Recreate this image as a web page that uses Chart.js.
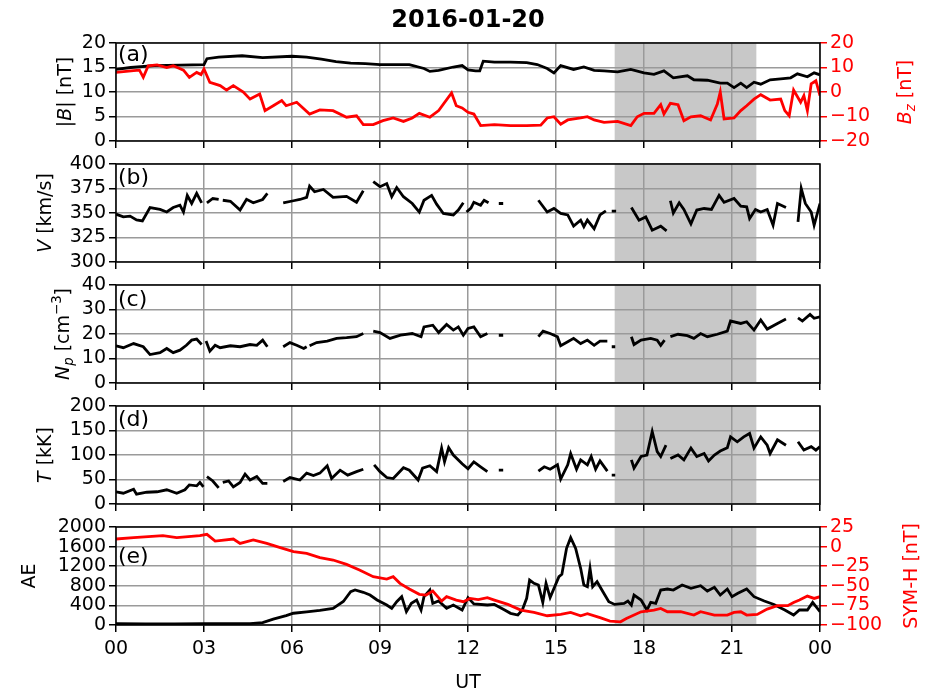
<!DOCTYPE html>
<html>
<head>
<meta charset="utf-8">
<script src="https://cdn.jsdelivr.net/npm/chart.js@4.4.0/dist/chart.umd.min.js"></script>
<style>
  html, body { margin: 0; padding: 0; background: #fff; }
  #wrap { position: relative; width: 930px; height: 691px; }
  #wrap canvas { position: absolute; left: 0; top: 0; }
</style>
</head>
<body>
<div id="wrap">
  <canvas id="panelA" width="930" height="691"></canvas>
  <canvas id="panelB" width="930" height="691"></canvas>
  <canvas id="panelC" width="930" height="691"></canvas>
  <canvas id="panelD" width="930" height="691"></canvas>
  <canvas id="panelE" width="930" height="691"></canvas>
</div>
<script>
// ---- data (UT hours / values), null = data gap ----
const hourLabels = ["00", "03", "06", "09", "12", "15", "18", "21", "00"];
const shadeStart = 17.0;
const shadeEnd = 21.83;

const bTime = [0, 0.5, 1.3, 2.2, 3.0, 3.1, 3.5, 4.3, 5.0, 6.0, 6.5, 7.0, 7.5, 8.0, 8.5, 9.0, 10.0, 10.5, 10.7, 11.0, 11.5, 11.8, 12.0, 12.26, 12.4, 12.52, 12.9, 13.45, 14.0, 14.36, 14.7, 14.93, 15.16, 15.6, 15.95, 16.3, 16.64, 17.1, 17.55, 18.0, 18.34, 18.68, 19.0, 19.48, 19.7, 20.16, 20.6, 20.84, 21.07, 21.3, 21.5, 21.75, 21.98, 22.3, 22.66, 23.0, 23.23, 23.57, 23.8, 24];
const bValues = [14.6, 15.0, 15.4, 15.5, 15.6, 16.8, 17.1, 17.4, 17.0, 17.3, 17.1, 16.7, 16.2, 15.9, 15.8, 15.6, 15.6, 14.8, 14.2, 14.4, 15.1, 15.4, 14.5, 14.3, 14.3, 16.3, 16.1, 16.1, 16.0, 15.6, 14.8, 13.9, 15.4, 14.6, 15.1, 14.4, 14.3, 14.1, 14.6, 13.9, 13.6, 14.3, 12.9, 13.3, 12.5, 12.4, 11.8, 11.8, 10.9, 11.8, 10.9, 12.0, 11.6, 12.5, 12.7, 12.9, 13.7, 13.1, 13.9, 13.5];

const bzTime = [0, 0.6, 0.8, 0.93, 1.1, 1.4, 1.73, 1.95, 2.3, 2.5, 2.75, 2.9, 3.0, 3.2, 3.55, 3.77, 4.0, 4.34, 4.57, 4.9, 5.08, 5.36, 5.65, 5.8, 6.16, 6.6, 6.95, 7.4, 7.86, 8.2, 8.43, 8.77, 9.1, 9.45, 9.8, 10.1, 10.34, 10.7, 11.0, 11.44, 11.6, 11.8, 12.0, 12.2, 12.43, 12.9, 13.45, 14.0, 14.48, 14.7, 14.93, 15.16, 15.4, 15.84, 16.07, 16.3, 16.64, 17.1, 17.55, 17.77, 18.0, 18.34, 18.57, 18.68, 18.9, 19.16, 19.36, 19.6, 19.93, 20.27, 20.5, 20.6, 20.73, 21.07, 21.3, 21.5, 21.75, 21.98, 22.3, 22.66, 22.8, 22.95, 23.1, 23.34, 23.45, 23.57, 23.7, 23.86, 24];
const bzValues = [8.0, 8.7, 8.9, 6.0, 10.7, 11.1, 10.0, 10.7, 8.9, 6.0, 8.0, 7.1, 9.4, 3.9, 2.6, 0.8, 2.6, 0, -2.9, -0.8, -7.6, -5.6, -3.5, -5.6, -4.2, -9.0, -7.3, -7.6, -10.3, -9.7, -13.3, -13.3, -11.7, -10.6, -12.0, -10.6, -8.7, -10.3, -7.6, -0.4, -5.6, -6.5, -8.3, -9.0, -13.7, -13.3, -13.7, -13.7, -13.5, -10.6, -10.1, -13.1, -11.4, -10.6, -10.1, -11.4, -12.4, -12.0, -13.7, -10.1, -8.7, -8.7, -5.2, -9.0, -4.6, -5.2, -11.7, -10.1, -9.7, -11.4, -4.9, 0, -11.0, -10.6, -7.6, -5.6, -2.9, -1.1, -3.3, -2.9, -7.6, -9.7, 0.8, -4.2, -1.5, -7.6, 3.3, 4.6, -1.5];

const vTime = [0, 0.25, 0.48, 0.7, 0.9, 1.16, 1.5, 1.73, 1.95, 2.18, 2.3, 2.43, 2.58, 2.75, 2.92, 3.0, 3.1, 3.3, 3.5, 3.57, 3.64, 3.9, 4.23, 4.45, 4.68, 5.0, 5.16, 5.4, 5.7, 6.05, 6.27, 6.5, 6.6, 6.77, 7.07, 7.4, 7.86, 8.2, 8.43, 8.6, 8.77, 9.0, 9.23, 9.4, 9.57, 9.8, 10.1, 10.34, 10.5, 10.76, 10.93, 11.16, 11.5, 11.67, 11.84, 11.9, 11.95, 12.1, 12.2, 12.43, 12.55, 12.7, 12.9, 13.05, 13.2, 13.5, 14.4, 14.7, 14.93, 15.16, 15.4, 15.6, 15.84, 15.95, 16.07, 16.3, 16.5, 16.7, 16.8, 16.9, 17.05, 17.3, 17.57, 17.83, 18.06, 18.28, 18.57, 18.77, 18.83, 18.9, 19.0, 19.2, 19.36, 19.6, 19.8, 20.05, 20.3, 20.56, 20.73, 21.07, 21.3, 21.5, 21.6, 21.8, 21.98, 22.2, 22.4, 22.55, 22.84, 23.0, 23.25, 23.36, 23.5, 23.7, 23.8, 24];
const vValues = [348.8, 346, 346.8, 343, 342, 355.6, 353.6, 351, 355.6, 358, 351, 368, 359.7, 370, 360.4, null, 360.4, 364.8, 363.8, null, 363, 362, 353, 364, 360.4, 363.8, 370, null, 360.4, 362.5, 363.8, 366, 377.5, 371.7, 374, 366, 367, 361, 372.7, null, 382, 376.8, 380, 366.6, 376, 366.6, 359.7, 351, 363, 368, 359, 349.5, 348, 353, 360.4, null, 351, 355, 361, 358, 363, 360.4, null, 359.7, 359.7, null, 363, 351, 354.6, 349.5, 348, 336.7, 342.7, 336, 342.7, 334, 348, 352.2, null, 352, 352, null, 355.6, 342.7, 346, 332.5, 336.5, 331.8, null, 362.5, 350, 360.4, 353.6, 339, 353, 354.6, 353.6, 368, 361, 364.8, 357, 356.3, 344.4, 353.6, 351, 353.6, 337.5, 359.7, 355.6, null, 341, 375, 359.7, 351, 337.5, 359.7];

const npTime = [0, 0.25, 0.6, 0.93, 1.16, 1.5, 1.73, 1.95, 2.18, 2.4, 2.58, 2.75, 2.92, 3.0, 3.07, 3.2, 3.38, 3.55, 3.9, 4.23, 4.57, 4.8, 5.0, 5.16, 5.4, 5.7, 5.93, 6.16, 6.4, 6.5, 6.55, 6.6, 6.84, 7.2, 7.52, 7.86, 8.2, 8.43, 8.6, 8.77, 9.0, 9.34, 9.7, 10.1, 10.4, 10.5, 10.8, 11.0, 11.27, 11.5, 11.67, 11.84, 12.0, 12.2, 12.43, 12.66, 12.9, 13.05, 13.2, 13.5, 14.4, 14.56, 14.8, 15.05, 15.16, 15.4, 15.6, 15.84, 16.07, 16.3, 16.5, 16.75, 16.82, 16.9, 17.02, 17.3, 17.57, 17.66, 17.9, 18.23, 18.45, 18.57, 18.7, 18.8, 18.9, 19.16, 19.48, 19.7, 19.93, 20.16, 20.5, 20.84, 20.95, 21.3, 21.5, 21.75, 21.98, 22.2, 22.55, 22.84, 23.0, 23.25, 23.4, 23.66, 23.8, 24];
const npValues = [15.2, 14.4, 16.1, 14.8, 11.6, 12.4, 14.1, 12.4, 13.4, 15.4, 17.5, 17.9, 15.7, null, 17.1, 13.0, 15.4, 14.4, 15.2, 14.8, 15.7, 15.4, 17.5, 14.8, null, 14.8, 16.5, 15.4, 14.1, 14.8, null, 15.2, 16.5, 17.1, 18.2, 18.5, 18.9, 20.2, null, 21.2, 20.6, 18.2, 19.5, 20.2, 18.9, 22.9, 23.6, 20.6, 23.9, 21.6, 22.9, 19.5, 22.3, 22.9, 18.9, 20.2, null, 19.5, 19.5, null, 18.9, 21.2, 20.2, 18.9, 15.2, 16.8, 18.2, 16.1, 17.5, 15.4, 17.1, 17.1, null, 14.8, 14.8, null, 18.9, 15.7, 17.5, 18.2, 17.5, 15.4, 17.5, null, 18.9, 19.9, 19.3, 18.2, 20.2, 18.9, 19.9, 21.2, 25.3, 24.3, 25.0, 21.6, 25.7, 22.0, 24.3, 26.1, null, 26.6, 25.3, 28.0, 26.4, 27.0];

const tTime = [0, 0.25, 0.6, 0.7, 1.05, 1.4, 1.73, 2.07, 2.35, 2.5, 2.75, 2.86, 2.98, 3.04, 3.1, 3.3, 3.5, 3.57, 3.64, 3.84, 4.0, 4.23, 4.4, 4.57, 4.8, 5.0, 5.16, 5.4, 5.7, 5.93, 6.27, 6.5, 6.73, 6.95, 7.2, 7.35, 7.64, 7.9, 8.2, 8.43, 8.6, 8.8, 9.0, 9.23, 9.45, 9.8, 10.0, 10.3, 10.45, 10.7, 10.93, 11.1, 11.2, 11.34, 11.5, 11.8, 12.0, 12.2, 12.43, 12.66, 12.9, 13.05, 13.2, 13.5, 14.4, 14.6, 14.8, 15.05, 15.16, 15.4, 15.5, 15.7, 15.84, 16.07, 16.2, 16.35, 16.5, 16.75, 16.82, 16.9, 17.02, 17.3, 17.57, 17.66, 17.9, 18.1, 18.28, 18.45, 18.57, 18.75, 18.82, 18.9, 19.16, 19.36, 19.6, 19.8, 20.05, 20.2, 20.4, 20.6, 20.84, 20.95, 21.18, 21.4, 21.6, 21.75, 21.98, 22.2, 22.3, 22.55, 22.84, 23.0, 23.25, 23.45, 23.7, 23.86, 24];
const tValues = [25, 22, 30, 20, 24, 25, 29, 22, 29, 39, 37, 44, 35, null, 56, 47, 33, null, 44, 47, 35, 44, 61, 49, 56, 42, 42, null, 46, 54, 49, 63, 58, 63, 78, 52, 69, 59, 66, 71, null, 80, 66, 54, 52, 74, 69, 49, 73, 78, 66, 114, 86, 115, 100, 82, 72, 86, 76, 66, null, 69, 69, null, 67, 76, 71, 80, 51, 80, 103, 71, 90, 80, 97, 71, 88, 67, null, 59, 59, null, 90, 73, 97, 100, 148, 107, 97, 120, null, 93, 100, 90, 114, 97, 103, 88, 100, 108, 115, 137, 127, 137, 144, 114, 137, 120, 103, 131, 120, null, 127, 110, 117, 110, 117];

const aeTime = [0, 1, 2, 3, 4, 4.57, 5.0, 5.36, 5.8, 6.05, 6.5, 6.95, 7.4, 7.75, 8.0, 8.15, 8.43, 8.66, 8.9, 9.23, 9.4, 9.57, 9.74, 9.9, 10.07, 10.25, 10.4, 10.5, 10.7, 10.8, 11.0, 11.27, 11.5, 11.8, 12.0, 12.2, 12.66, 12.9, 13.25, 13.45, 13.7, 13.85, 14.0, 14.1, 14.25, 14.4, 14.55, 14.66, 14.8, 15.1, 15.2, 15.36, 15.5, 15.67, 15.84, 15.95, 16.07, 16.16, 16.25, 16.4, 16.6, 16.8, 17.0, 17.32, 17.45, 17.57, 17.66, 17.9, 18.1, 18.23, 18.4, 18.57, 18.8, 19.0, 19.3, 19.6, 19.93, 20.16, 20.4, 20.6, 20.84, 21.0, 21.2, 21.5, 21.75, 22.1, 22.43, 22.8, 23.1, 23.3, 23.57, 23.75, 24];
const aeValues = [30, 25, 25, 28, 30, 30, 50, 120, 190, 240, 270, 300, 340, 480, 680, 714, 667, 612, 510, 408, 340, 476, 578, 272, 442, 510, 306, 578, 714, 442, 490, 340, 408, 306, 558, 430, 408, 420, 306, 238, 204, 306, 544, 918, 850, 816, 462, 850, 558, 986, 1034, 1564, 1782, 1564, 1156, 816, 782, 1156, 782, 884, 680, 476, 420, 442, 490, 408, 612, 510, 306, 462, 442, 714, 734, 714, 816, 748, 802, 694, 768, 612, 734, 578, 646, 734, 578, 490, 420, 306, 204, 306, 306, 462, 272];

const symTime = [0, 0.6, 1.6, 2.07, 2.86, 3.1, 3.38, 4.0, 4.23, 4.68, 5.14, 5.6, 6.05, 6.5, 6.95, 7.4, 7.86, 8.3, 8.77, 9.23, 9.45, 9.68, 10.0, 10.34, 10.57, 10.8, 11.1, 11.27, 11.6, 11.84, 12.07, 12.35, 12.66, 12.9, 13.36, 13.8, 14.25, 14.7, 15.16, 15.5, 15.84, 16.07, 16.5, 16.84, 17.2, 17.4, 17.9, 18.34, 18.57, 18.8, 19.25, 19.7, 19.93, 20.4, 20.84, 21.07, 21.3, 21.5, 21.86, 22.2, 22.55, 22.9, 23.1, 23.3, 23.57, 23.8, 24];
const symValues = [9.7, 11.4, 13.9, 11.4, 13.9, 15.6, 7.1, 9.7, 4.1, 8.4, 4.1, -1.4, -6.5, -8.6, -14.1, -17.1, -22.7, -29.9, -38.4, -41.4, -38.4, -46.9, -54.1, -60.9, -61.8, -56.7, -69.5, -63.9, -68.2, -70.3, -66.1, -67.5, -65.2, -68.2, -73.7, -81, -84, -88.2, -86.5, -84, -88.2, -85.6, -90.7, -95, -95.9, -91.6, -83.1, -81, -78.8, -83.1, -83.1, -87.3, -83.1, -87.3, -87.3, -84, -83.1, -87.3, -86.5, -79.7, -75.4, -75.4, -71.2, -68.2, -63.1, -66.1, -63.9];

// ---- style ----
const FONT = "DejaVu Sans";
const RED = "#ff0000";
const GRID = "#9a9a9a";
const SHADE = "#c8c8c8";
Chart.defaults.font.family = FONT;

function pairs(times, values) {
  const n = Math.min(times.length, values.length);
  const out = [];
  for (let i = 0; i < n; i++) out.push({ x: times[i], y: values[i] });
  return out;
}

function minusFmt(v) {
  return v < 0 ? "\u2212" + Math.abs(v) : String(v);
}

// draws a label made of pieces (italic, sub/superscript), centred on cx,cy
function drawRich(ctx, parts, cx, cy, size, color, rotate) {
  ctx.save();
  ctx.translate(cx, cy);
  if (rotate) ctx.rotate(-Math.PI / 2);
  let total = 0;
  const fonts = parts.map(p => {
    const s = p.sub || p.sup ? size * 0.7 : size;
    const f = (p.i ? "italic " : "") + (p.b ? "bold " : "") + s + "px \"" + FONT + "\"";
    ctx.font = f;
    const w = ctx.measureText(p.t).width;
    total += w;
    return { f, w };
  });
  let x = -total / 2;
  ctx.fillStyle = color;
  ctx.textAlign = "left";
  ctx.textBaseline = "alphabetic";
  const base = size * 0.36;
  parts.forEach((p, k) => {
    ctx.font = fonts[k].f;
    let dy = base;
    if (p.sub) dy += size * 0.22;
    if (p.sup) dy -= size * 0.42;
    ctx.fillText(p.t, x, dy);
    x += fonts[k].w;
  });
  ctx.restore();
}

const decoPlugin = {
  id: "deco",
  beforeDraw(chart, args, o) {
    const { ctx, chartArea: a, scales } = chart;
    const x1 = scales.x.getPixelForValue(shadeStart);
    const x2 = scales.x.getPixelForValue(shadeEnd);
    ctx.save();
    ctx.fillStyle = SHADE;
    ctx.fillRect(x1, a.top, x2 - x1, a.bottom - a.top);
    ctx.restore();
  },
  afterDraw(chart, args, o) {
    const { ctx, chartArea: a } = chart;
    ctx.save();
    ctx.strokeStyle = "#000";
    ctx.lineWidth = 1.5;
    ctx.strokeRect(a.left, a.top, a.right - a.left, a.bottom - a.top);
    ctx.fillStyle = "#000";
    ctx.font = "22px \"" + FONT + "\"";
    ctx.textAlign = "left";
    ctx.textBaseline = "middle";
    ctx.fillText(o.label, a.left + 2, a.top + o.labelDy);
    ctx.restore();
    drawRich(ctx, o.leftTitle, o.leftX, (a.top + a.bottom) / 2, 19, "#000", true);
    if (o.rightTitle) drawRich(ctx, o.rightTitle, o.rightX, (a.top + a.bottom) / 2, 19, RED, true);
    if (o.title) drawRich(ctx, [{ t: o.title, b: 1 }], (a.left + a.right) / 2, 18, 24, "#000", false);
    if (o.xTitle) drawRich(ctx, [{ t: o.xTitle }], (a.left + a.right) / 2, 681, 19, "#000", false);
  }
};

function yScale(min, max, step, pos, color, width, onArea) {
  return {
    type: "linear", position: pos, min: min, max: max,
    ticks: { stepSize: step, autoSkip: false, color: color, font: { size: 19 }, padding: 3, callback: v => minusFmt(v) },
    grid: { display: true, drawOnChartArea: onArea, color: GRID, lineWidth: 1.5, tickLength: 7, tickColor: color, tickWidth: 1.5 },
    border: { display: false },
    afterFit: s => { s.width = width; }
  };
}

function buildPanel(id, p) {
  const xH = p.showX ? 40 : 10;
  const scales = {
    x: {
      type: "linear", min: 0, max: 24, position: "bottom",
      ticks: { stepSize: 3, display: p.showX, color: "#000", font: { size: 19 }, padding: 6, maxRotation: 0, autoSkip: false,
        callback: v => hourLabels[Math.round(v / 3)] },
      grid: { color: GRID, lineWidth: 1.5, tickLength: 7, tickColor: "#000", tickWidth: 1.5 },
      border: { display: false },
      afterFit: s => { s.height = xH; }
    },
    y: yScale(p.yMin, p.yMax, p.yStep, "left", "#000", 116, true)
  };
  const datasets = [{
    data: p.data, borderColor: "#000", borderWidth: 2.8, pointRadius: 0, spanGaps: false, yAxisID: "y", order: 2
  }];
  if (p.data2) {
    scales.y1 = yScale(p.y2Min, p.y2Max, p.y2Step, "right", RED, 110, false);
    datasets.push({
      data: p.data2, borderColor: RED, borderWidth: 2.8, pointRadius: 0, spanGaps: false, yAxisID: "y1", order: 1
    });
  }
  return new Chart(document.getElementById(id), {
    type: "line",
    data: { datasets },
    options: {
      responsive: false, animation: false, devicePixelRatio: 1, events: [],
      layout: { padding: { top: p.top, left: 0, right: p.data2 ? 0 : 110, bottom: 691 - p.bottom - xH } },
      scales,
      plugins: {
        legend: { display: false }, tooltip: { enabled: false },
        deco: p.deco
      }
    },
    plugins: [decoPlugin]
  });
}

buildPanel("panelA", {
  top: 43, bottom: 141, showX: false,
  data: pairs(bTime, bValues), yMin: 0, yMax: 20, yStep: 5,
  data2: pairs(bzTime, bzValues), y2Min: -20, y2Max: 20, y2Step: 10,
  deco: {
    label: "(a)", labelDy: 12, leftX: 64, rightX: 904, title: "2016-01-20",
    leftTitle: [{ t: "|" }, { t: "B", i: 1 }, { t: "| [nT]" }],
    rightTitle: [{ t: "B", i: 1 }, { t: "z", i: 1, sub: 1 }, { t: " [nT]" }]
  }
});

buildPanel("panelB", {
  top: 164, bottom: 262, showX: false,
  data: pairs(vTime, vValues), yMin: 300, yMax: 400, yStep: 25,
  deco: { label: "(b)", labelDy: 14, leftX: 44, leftTitle: [{ t: "V", i: 1 }, { t: " [km/s]" }] }
});

buildPanel("panelC", {
  top: 285, bottom: 383, showX: false,
  data: pairs(npTime, npValues), yMin: 0, yMax: 40, yStep: 10,
  deco: { label: "(c)", labelDy: 15, leftX: 62,
    leftTitle: [{ t: "N", i: 1 }, { t: "p", i: 1, sub: 1 }, { t: " [cm" }, { t: "\u22123", sup: 1 }, { t: "]" }] }
});

buildPanel("panelD", {
  top: 406, bottom: 504, showX: false,
  data: pairs(tTime, tValues), yMin: 0, yMax: 200, yStep: 50,
  deco: { label: "(d)", labelDy: 14, leftX: 44, leftTitle: [{ t: "T", i: 1 }, { t: " [kK]" }] }
});

buildPanel("panelE", {
  top: 527, bottom: 625, showX: true,
  data: pairs(aeTime, aeValues), yMin: 0, yMax: 2000, yStep: 400,
  data2: pairs(symTime, symValues), y2Min: -100, y2Max: 25, y2Step: 25,
  deco: { label: "(e)", labelDy: 30, leftX: 28, rightX: 910, xTitle: "UT",
    leftTitle: [{ t: "AE" }], rightTitle: [{ t: "SYM-H [nT]" }] }
});
</script>
</body>
</html>
